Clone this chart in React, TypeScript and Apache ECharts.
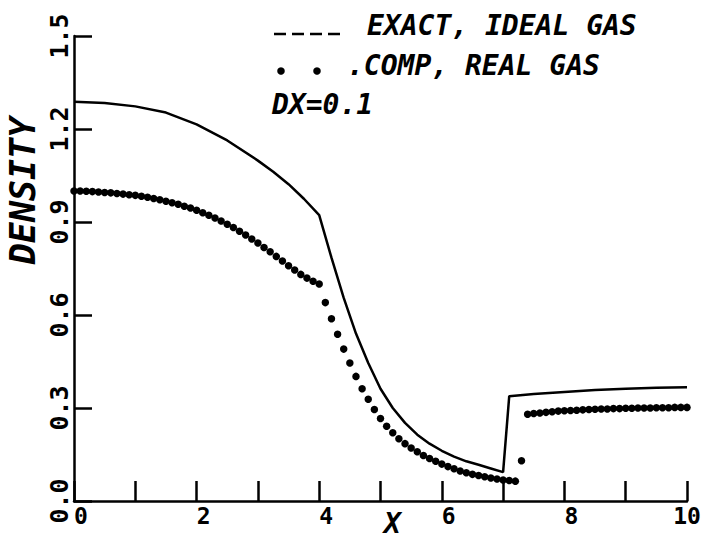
import React, { useEffect, useRef } from "react";
import * as echarts from "echarts";

const FONT = "'DejaVu Sans Mono', 'Liberation Mono', monospace";

// Exact solution, ideal gas (solid line)
const exactX = [0, 0.5, 1.0, 1.5, 2.0, 2.5, 3.0, 3.25, 3.5, 3.75, 4.0, 4.2, 4.4, 4.6, 4.8, 5.0, 5.2, 5.4, 5.6, 5.8, 6.0, 6.2, 6.4, 6.6, 6.8, 7.0, 7.1, 7.5, 8.0, 8.5, 9.0, 9.5, 10];
const exactY = [1.288, 1.284, 1.273, 1.253, 1.215, 1.163, 1.098, 1.062, 1.022, 0.975, 0.922, 0.785, 0.655, 0.54, 0.445, 0.362, 0.3, 0.252, 0.214, 0.185, 0.162, 0.143, 0.128, 0.117, 0.105, 0.093, 0.338, 0.345, 0.352, 0.358, 0.362, 0.365, 0.367];

// Computed, real gas (dots), DX = 0.1
const compX = [
  0, 0.1, 0.2, 0.3, 0.4, 0.5, 0.6, 0.7, 0.8, 0.9,
  1.0, 1.1, 1.2, 1.3, 1.4, 1.5, 1.6, 1.7, 1.8, 1.9,
  2.0, 2.1, 2.2, 2.3, 2.4, 2.5, 2.6, 2.7, 2.8, 2.9,
  3.0, 3.1, 3.2, 3.3, 3.4, 3.5, 3.6, 3.7, 3.8, 3.9,
  4.0, 4.1, 4.2, 4.3, 4.4, 4.5, 4.6, 4.7, 4.8, 4.9,
  5.0, 5.1, 5.2, 5.3, 5.4, 5.5, 5.6, 5.7, 5.8, 5.9,
  6.0, 6.1, 6.2, 6.3, 6.4, 6.5, 6.6, 6.7, 6.8, 6.9,
  7.0, 7.1, 7.2, 7.3, 7.4, 7.5, 7.6, 7.7, 7.8, 7.9,
  8.0, 8.1, 8.2, 8.3, 8.4, 8.5, 8.6, 8.7, 8.8, 8.9,
  9.0, 9.1, 9.2, 9.3, 9.4, 9.5, 9.6, 9.7, 9.8, 9.9,
  10.0,
];
const compY = [
  1.0, 1.0, 0.999, 0.998, 0.997, 0.995, 0.994, 0.992, 0.99, 0.988,
  0.986, 0.983, 0.98, 0.976, 0.972, 0.967, 0.962, 0.957, 0.951, 0.945,
  0.938, 0.93, 0.922, 0.913, 0.903, 0.893, 0.882, 0.87, 0.858, 0.845,
  0.832, 0.818, 0.804, 0.789, 0.774, 0.759, 0.745, 0.731, 0.719, 0.709,
  0.7, 0.64, 0.588, 0.538, 0.49, 0.445, 0.402, 0.362, 0.328, 0.295,
  0.266, 0.241, 0.22, 0.201, 0.185, 0.171, 0.159, 0.147, 0.137, 0.128,
  0.119, 0.111, 0.104, 0.097, 0.091, 0.086, 0.082, 0.078, 0.074, 0.071,
  0.068, 0.066, 0.064, 0.13, 0.28, 0.282, 0.284, 0.286, 0.288, 0.29,
  0.291, 0.292, 0.293, 0.294, 0.295, 0.296, 0.297, 0.297, 0.298, 0.298,
  0.299, 0.299, 0.3, 0.3, 0.3, 0.301, 0.301, 0.301, 0.302, 0.302,
  0.302,
];

const legendLines = ["EXACT, IDEAL GAS", ".COMP, REAL GAS", "DX=0.1"];

export default function App() {
  const ref = useRef<HTMLDivElement>(null);

  useEffect(() => {
    document.body.style.margin = "0";
    if (!ref.current) return;
    const chart = echarts.init(ref.current, null, { renderer: "svg" });

    const axisColor = "#000";
    const textBase = { fontFamily: FONT, color: "#000", fontWeight: "bold" };
    const option: any = {
      animation: false,
      backgroundColor: "#fff",
      grid: { left: 74, right: 20, top: 36, bottom: 39, containLabel: false, outerBoundsMode: "none" },
      xAxis: {
        type: "value",
        min: 0,
        max: 10,
        interval: 1,
        name: "X",
        nameLocation: "middle",
        nameGap: 8,
        nameMoveOverlap: false,
        nameTextStyle: {
          ...textBase,
          fontSize: 28,
          lineHeight: 28,
          fontStyle: "italic",
          verticalAlign: "top",
          padding: [0, 0, 0, 24],
        },
        axisLine: { show: true, onZero: false, lineStyle: { color: axisColor, width: 2.5 } },
        axisTick: { show: true, inside: true, length: 20, lineStyle: { color: axisColor, width: 2.5 } },
        axisLabel: {
          show: true,
          margin: 3,
          ...textBase,
          fontSize: 23,
          formatter: (v: number) => {
            const r = Math.round(v);
            if (r % 2 !== 0) return "";
            return r < 10 ? `{s|${r}}` : `{t|${r}}`;
          },
          rich: {
            s: { ...textBase, fontSize: 23, padding: [0, 0, 0, 14] },
            t: { ...textBase, fontSize: 23 },
          },
        },
        splitLine: { show: false },
      },
      yAxis: {
        type: "value",
        min: 0,
        max: 1.5,
        interval: 0.3,
        name: "DENSITY",
        nameLocation: "middle",
        nameGap: 34,
        nameMoveOverlap: false,
        nameTextStyle: {
          ...textBase,
          fontSize: 35,
          fontStyle: "italic",
          padding: [0, 0, 0, 156],
        },
        axisLine: { show: true, onZero: false, lineStyle: { color: axisColor, width: 2.5 } },
        axisTick: { show: true, inside: true, length: 18, lineStyle: { color: axisColor, width: 2.5 } },
        axisLabel: {
          show: true,
          rotate: 90,
          margin: 2,
          ...textBase,
          fontSize: 25,
          formatter: (v: number) => v.toFixed(1),
        },
        splitLine: { show: false },
      },
      graphic: [
        {
          type: "line",
          shape: { x1: 274, y1: 34, x2: 340, y2: 34 },
          style: { stroke: "#000", lineWidth: 2.5, lineDash: [12, 6] },
        },
        {
          type: "text",
          x: 367,
          y: 25,
          style: {
            text: legendLines[0],
            fontFamily: FONT,
            fontSize: 28,
            fontStyle: "italic",
            fontWeight: "bold",
            fill: "#000",
            align: "left",
            verticalAlign: "middle",
          },
        },
        { type: "circle", shape: { cx: 281, cy: 71, r: 3.8 }, style: { fill: "#000" } },
        { type: "circle", shape: { cx: 317, cy: 71, r: 3.8 }, style: { fill: "#000" } },
        {
          type: "text",
          x: 347,
          y: 65,
          style: {
            text: legendLines[1],
            fontFamily: FONT,
            fontSize: 28,
            fontStyle: "italic",
            fontWeight: "bold",
            fill: "#000",
            align: "left",
            verticalAlign: "middle",
          },
        },
        {
          type: "text",
          x: 272,
          y: 104,
          style: {
            text: legendLines[2],
            fontFamily: FONT,
            fontSize: 28,
            fontStyle: "italic",
            fontWeight: "bold",
            fill: "#000",
            align: "left",
            verticalAlign: "middle",
          },
        },
      ],
      series: [
        {
          name: "EXACT, IDEAL GAS",
          type: "line",
          data: exactX.map((x, i) => [x, exactY[i]]),
          showSymbol: false,
          symbol: "none",
          lineStyle: { color: "#000", width: 2.5 },
          z: 3,
        },
        {
          name: "COMP, REAL GAS",
          type: "scatter",
          data: compX.map((x, i) => [x, compY[i]]),
          symbol: "circle",
          symbolSize: 7.5,
          itemStyle: { color: "#000", opacity: 1 },
          clip: false,
          z: 4,
        },
      ],
    };

    chart.setOption(option);
    return () => chart.dispose();
  }, []);

  return <div ref={ref} style={{ width: 707, height: 540 }} />;
}
